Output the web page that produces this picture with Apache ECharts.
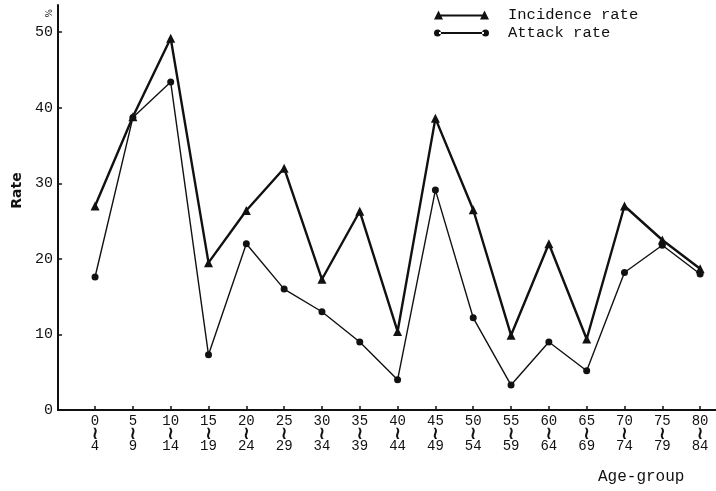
<!DOCTYPE html>
<html><head><meta charset="utf-8">
<script src="https://cdn.jsdelivr.net/npm/echarts@6/dist/echarts.min.js"></script>
<style>html,body{margin:0;padding:0;background:#fff}#c{width:716px;height:491px}</style>
</head><body><div id="c"></div>
<script>
var ageStart = [0,5,10,15,20,25,30,35,40,45,50,55,60,65,70,75,80];
var ageEnd   = [4,9,14,19,24,29,34,39,44,49,54,59,64,69,74,79,84];
var incidenceRate = [27.0,38.8,49.2,19.5,26.4,32.0,17.3,26.3,10.4,38.6,26.5,9.9,22.0,9.4,27.0,22.5,18.7];
var attackRate    = [17.6,38.7,43.4,7.3,22.0,16.0,13.0,9.0,4.0,29.1,12.2,3.3,9.0,5.2,18.2,21.8,18.0];
var yTicks = [0,10,20,30,40,50];

var font = 'Liberation Mono';
function pairs(vals){ return ageStart.map(function(a,i){ return [a, vals[i]]; }); }

var chart = echarts.init(document.getElementById('c'));
chart.setOption({
  animation: false,
  backgroundColor: '#fff',
  grid: {left: 58, right: 0, top: 5, bottom: 81, containLabel: false},
  legend: {
    left: 429, top: 2, orient: 'vertical', itemGap: 2,
    itemWidth: 55, itemHeight: 9,
    textStyle: {fontFamily: font, fontSize: 15.5, color: '#111', padding: [0,0,0,14]},
    data: [
      {name: 'Incidence rate', icon: 'path://M0,9L4.5,0L9,9Z M4,4L51,4L51,6L4,6Z M46,9L50.5,0L55,9Z'},
      {name: 'Attack rate', icon: 'path://M0,4.5a3.5,3.5 0 1,0 7,0a3.5,3.5 0 1,0 -7,0Z M5,3.6L50,3.6L50,5.4L5,5.4Z M48,4.5a3.5,3.5 0 1,0 7,0a3.5,3.5 0 1,0 -7,0Z'}
    ]
  },
  xAxis: {
    type: 'value', min: -4.9, max: 82.1,
    splitLine: {show: false},
    axisLine: {onZero: false, lineStyle: {color: '#111', width: 2}},
    axisTick: {inside: true, length: 4, lineStyle: {color: '#111', width: 1.5}, customValues: ageStart},
    axisLabel: {
      customValues: ageStart, margin: 5, color: '#111',
      formatter: function(v){ var i = ageStart.indexOf(v); return i < 0 ? '' : '{a|' + ageStart[i] + '}\n{w|≀}\n{a|' + ageEnd[i] + '}'; },
      rich: {
        a: {fontFamily: font, fontSize: 14, lineHeight: 13, color: '#111'},
        w: {fontFamily: 'DejaVu Sans', fontSize: 18, fontWeight: 'bold', lineHeight: 12, color: '#111'}
      }
    }
  },
  yAxis: {
    type: 'value', min: 0, max: 53.6,
    splitLine: {show: false},
    axisLine: {show: true, onZero: false, lineStyle: {color: '#111', width: 2}},
    axisTick: {show: true, inside: true, length: 4, lineStyle: {color: '#111', width: 1.5}, customValues: yTicks},
    axisLabel: {customValues: yTicks, margin: 5, color: '#111', fontFamily: font, fontSize: 15},
    name: 'Rate', nameLocation: 'middle', nameGap: 34, nameRotate: 90,
    nameTextStyle: {fontFamily: 'DejaVu Sans', fontWeight: 'bold', fontSize: 14, color: '#111', padding: [0,0,0,34]}
  },
  graphic: [
    {type: 'text', left: 43, top: 9, rotation: -Math.PI/2, style: {text: '%', fontFamily: 'DejaVu Sans', fontSize: 9, fill: '#111'}},
    {type: 'text', left: 598, top: 469, style: {text: 'Age-group', fontFamily: font, fontSize: 16, fill: '#111'}}
  ],
  series: [
    {name: 'Incidence rate', type: 'line', data: pairs(incidenceRate),
     symbol: 'triangle', symbolSize: 9, showAllSymbol: true,
     lineStyle: {color: '#111', width: 2.4}, itemStyle: {color: '#111'}},
    {name: 'Attack rate', type: 'line', data: pairs(attackRate),
     symbol: 'circle', symbolSize: 7, showAllSymbol: true,
     lineStyle: {color: '#111', width: 1.4}, itemStyle: {color: '#111'}}
  ]
});
</script></body></html>
